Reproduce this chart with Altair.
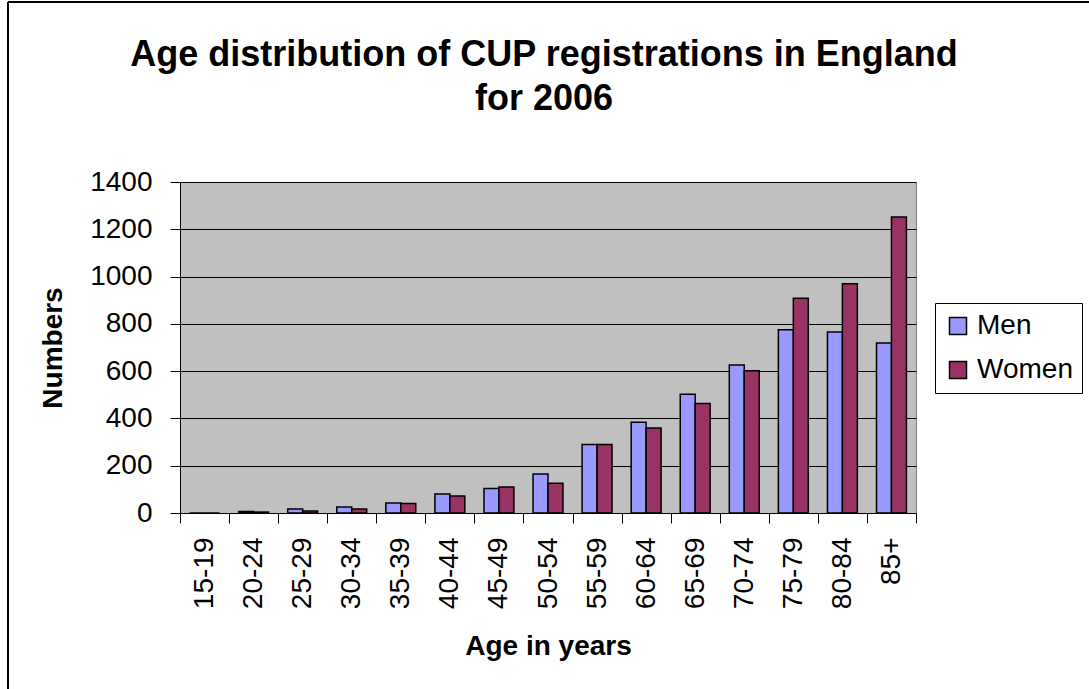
import altair as alt
import pandas as pd

# Age bands and registrations per band
age_bands = ["15-19", "20-24", "25-29", "30-34", "35-39", "40-44", "45-49", "50-54",
             "55-59", "60-64", "65-69", "70-74", "75-79", "80-84", "85+"]
men = [0, 6, 17, 25, 42, 80, 104, 165, 290, 384, 502, 626, 775, 766, 719]
women = [0, 4, 8, 17, 40, 72, 110, 126, 290, 359, 463, 602, 908, 970, 1252]
series = ["Men", "Women"]
series_colors = ["#9999FF", "#993366"]
y_ticks = [0, 200, 400, 600, 800, 1000, 1200, 1400]

rows = []
for band, m, w in zip(age_bands, men, women):
    rows.append({"band": band, "sex": "Men", "count": m})
    rows.append({"band": band, "sex": "Women", "count": w})
df = pd.DataFrame(rows)

FONT = "Liberation Sans"

bars = alt.Chart(df).mark_bar(stroke="black", strokeWidth=1.5).encode(
    x=alt.X("band:N", sort=age_bands,
            scale=alt.Scale(paddingInner=0, paddingOuter=0),
            axis=alt.Axis(title="Age in years", labelAngle=270, tickBand="extent",
                          labelAlign="right", labelBaseline="middle",
                          tickSize=10, labelPadding=14, titlePadding=24,
                          domainColor="black", tickColor="black", grid=False)),
    xOffset=alt.XOffset("sex:N", sort=series,
                        scale=alt.Scale(paddingInner=0, paddingOuter=0.64)),
    y=alt.Y("count:Q", scale=alt.Scale(domain=[0, 1400], nice=False),
            axis=alt.Axis(title="Numbers", values=y_ticks, format="d", tickSize=10,
                          labelPadding=18, titlePadding=22, domainColor="black",
                          tickColor="black", gridColor="black", gridWidth=1)),
    color=alt.Color("sex:N", sort=series,
                    scale=alt.Scale(domain=series, range=series_colors),
                    legend=alt.Legend(title=None, orient="none", legendX=755, legendY=121,
                                      strokeColor="black", fillColor="white", padding=9,
                                      symbolType="square", symbolSize=289,
                                      symbolStrokeColor="black", symbolStrokeWidth=1.5,
                                      labelFontSize=28, labelFont=FONT, rowPadding=16,
                                      labelOffset=5)),
)

frame = pd.DataFrame({"k": [0]})
left_border = alt.Chart(frame).mark_rule(color="black", strokeWidth=2).encode(
    x=alt.value(-172), y=alt.value(-180), y2=alt.value(507))
top_border = alt.Chart(frame).mark_rule(color="black", strokeWidth=2).encode(
    x=alt.value(-172), x2=alt.value(909), y=alt.value(-180))

chart = alt.layer(bars, left_border, top_border).properties(
    width=736, height=331,
    autosize=alt.AutoSizeParams(type="none"),
    padding={"left": 180, "top": 182, "right": 173, "bottom": 176},
    title=alt.TitleParams(["Age distribution of CUP registrations in England", "for 2006"],
                          font=FONT, fontSize=36, fontWeight="bold", lineHeight=44,
                          anchor="middle", baseline="bottom", offset=-153, dx=-4,
                          color="black"),
).configure(background="white").configure_view(
    fill="#C0C0C0", stroke="#808080", strokeWidth=1
).configure_axis(
    labelFont=FONT, titleFont=FONT, labelFontSize=28, titleFontSize=28,
    labelColor="black", titleColor="black", titleFontWeight="bold"
)

chart.save("out.html", embed_options={"renderer": "svg", "actions": False})
